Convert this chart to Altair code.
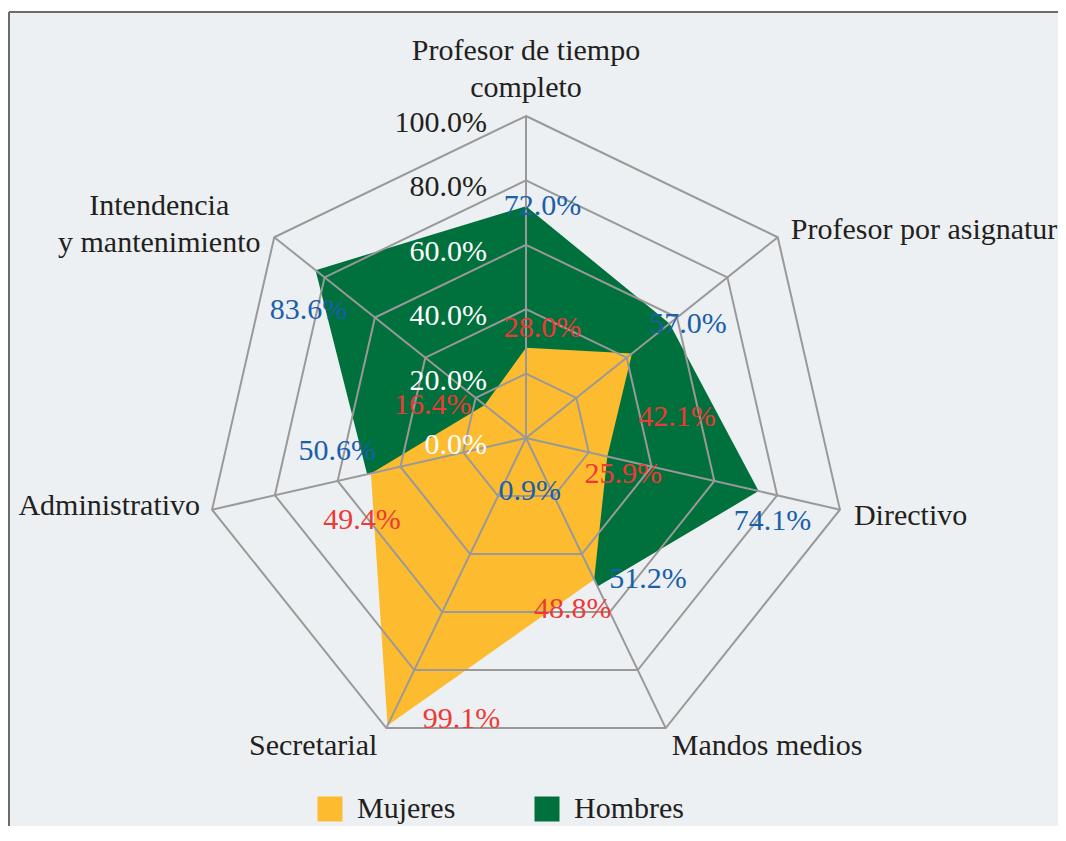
import altair as alt
import pandas as pd

# ---------------- data ----------------
CATEGORIES = [
    "Profesor de tiempo completo",
    "Profesor por asignatura",
    "Directivo",
    "Mandos medios",
    "Secretarial",
    "Administrativo",
    "Intendencia y mantenimiento",
]
CATEGORY_LABELS = [
    "Profesor de tiempo\ncompleto",
    "Profesor por asignatura",
    "Directivo",
    "Mandos medios",
    "Secretarial",
    "Administrativo",
    "Intendencia\ny mantenimiento",
]
SERIES = ["Mujeres", "Hombres"]
MUJERES = [28.0, 42.1, 25.9, 48.8, 99.1, 49.4, 16.4]
HOMBRES = [72.0, 57.0, 74.1, 51.2, 0.9, 50.6, 83.6]
GRID_LEVELS = [0, 20, 40, 60, 80, 100]

# ---------------- style / layout ----------------
FONT = "Liberation Serif"
FS = 30
BG = "#ECF0F3"
YELLOW = "#FDBB30"
GREEN = "#00703C"
GRID = "#999999"
DARK = "#231F20"
RED = "#EE3A36"
BLUE = "#1B5EAA"
BORDER = "#6B6B6B"

W, H = 1049, 814
CX, CY = 517, 426  # centre of the radar in view pixels
R = 322            # pixels for 100 %
PX = R / 100.0
XS = alt.Scale(domain=[-CX / PX, (W - CX) / PX], nice=False, zero=False)
YS = alt.Scale(domain=[-(H - CY) / PX, CY / PX], nice=False, zero=False)
X = alt.X("px:Q", scale=XS, axis=None)
Y = alt.Y("py:Q", scale=YS, axis=None)

N = len(CATEGORIES)
ANG = f"datum.idx * 2 * PI / {N}"

# label offsets (pixels) relative to each vertex
OFF_M = [(16.5, -11), (45, 73), (16, 26.5), (-21.5, 38.5), (74, 2.5), (-9, 55.5), (-52, 9)]
OFF_H = [(16.5, 9), (18.5, 9.5), (14, 39), (50.5, 1.5), (5, 59.5), (-30, -14), (-7, 49)]
CAT_POS = [
    ("center", 0, -56),
    ("left", 13, 2),
    ("left", 14, 15),
    ("left", 6, 27),
    ("right", -9, 27),
    ("right", -12, 5),
    ("center", -115, -22),
]

rows = []
for s, vals in zip(SERIES, [MUJERES, HOMBRES]):
    for i, (c, v) in enumerate(zip(CATEGORIES, vals)):
        rows.append({"serie": s, "cat": c, "idx": i, "value": v})
sdf = pd.DataFrame(rows)

ring_df = pd.DataFrame([{"level": l, "idx": i} for l in GRID_LEVELS[1:] for i in range(N)])
spoke_df = pd.DataFrame({"idx": list(range(N)), "cat": CATEGORIES, "label": CATEGORY_LABELS})
tick_df = pd.DataFrame({"level": GRID_LEVELS})

fill_scale = alt.Scale(domain=SERIES, range=[YELLOW, GREEN])
legend = alt.Legend(
    title=None, orient="none", legendX=306, legendY=782, direction="horizontal",
    symbolType="square", symbolSize=625, symbolStrokeWidth=0,
    labelFont=FONT, labelFontSize=FS, labelColor=DARK, labelOffset=12,
    columnPadding=76, padding=0,
)


def polar(chart, rfield):
    return chart.transform_calculate(
        px=f"datum.{rfield} * sin({ANG})",
        py=f"datum.{rfield} * cos({ANG})",
    )


layers = []

# polygons: Hombres under Mujeres
for s in ["Hombres", "Mujeres"]:
    layers.append(
        polar(alt.Chart(sdf).transform_filter(alt.datum.serie == s), "value")
        .mark_line(interpolate="linear-closed", strokeOpacity=0)
        .encode(x=X, y=Y, order=alt.Order("idx:Q"),
                fill=alt.Fill("serie:N", scale=fill_scale, legend=legend))
    )

# grid rings
layers.append(
    polar(alt.Chart(ring_df), "level")
    .mark_line(interpolate="linear-closed", color=GRID, strokeWidth=2)
    .encode(x=X, y=Y, detail="level:N", order=alt.Order("idx:Q"))
)

# spokes
layers.append(
    alt.Chart(spoke_df)
    .transform_calculate(px="0", py="0", sx=f"100 * sin({ANG})", sy=f"100 * cos({ANG})")
    .mark_rule(color=GRID, strokeWidth=2)
    .encode(x=X, y=Y, x2="sx:Q", y2="sy:Q")
)

# radial tick labels
layers.append(
    alt.Chart(tick_df)
    .transform_calculate(px="0", py="datum.level", t="datum.level / 100")
    .mark_text(align="right", baseline="alphabetic", dx=-39, dy=16, font=FONT, fontSize=FS)
    .encode(
        x=X, y=Y,
        text=alt.Text("t:Q", format=".1%"),
        color=alt.condition(alt.datum.level >= 80, alt.value(DARK), alt.value("white")),
    )
)

# value labels
for s, offs, col in [("Hombres", OFF_H, BLUE), ("Mujeres", OFF_M, RED)]:
    for i, (dx, dy) in enumerate(offs):
        layers.append(
            polar(alt.Chart(sdf).transform_filter(
                (alt.datum.serie == s) & (alt.datum.idx == i)), "value")
            .transform_calculate(t="datum.value / 100")
            .mark_text(align="center", baseline="alphabetic", dx=dx, dy=dy,
                       font=FONT, fontSize=FS, color=col)
            .encode(x=X, y=Y, text=alt.Text("t:Q", format=".1%"))
        )

# category labels
for i, (al, dx, dy) in enumerate(CAT_POS):
    layers.append(
        alt.Chart(spoke_df)
        .transform_filter(alt.datum.idx == i)
        .transform_calculate(r="100")
        .transform_calculate(px=f"datum.r * sin({ANG})", py=f"datum.r * cos({ANG})")
        .mark_text(align=al, baseline="alphabetic", dx=dx, dy=dy, font=FONT,
                   fontSize=FS, color=DARK, lineBreak="\n", lineHeight=37)
        .encode(x=X, y=Y, text="label:N")
    )

# frame (top and left edges)
frame_df = pd.DataFrame({"k": [0]})
layers.append(
    alt.Chart(frame_df).mark_rule(color=BORDER, strokeWidth=2)
    .encode(x=alt.value(0), x2=alt.value(W), y=alt.value(0))
)
layers.append(
    alt.Chart(frame_df).mark_rule(color=BORDER, strokeWidth=2)
    .encode(x=alt.value(0), y=alt.value(0), y2=alt.value(H))
)

chart = (
    alt.layer(*layers)
    .properties(
        width=W, height=H,
        autosize=alt.AutoSizeParams(type="none"),
        padding={"left": 1, "top": 4, "right": 0, "bottom": 0},
        background="white",
    )
    .configure_view(fill=BG, strokeWidth=0)
)

chart.save("out.html", embed_options={"renderer": "svg", "actions": False})
